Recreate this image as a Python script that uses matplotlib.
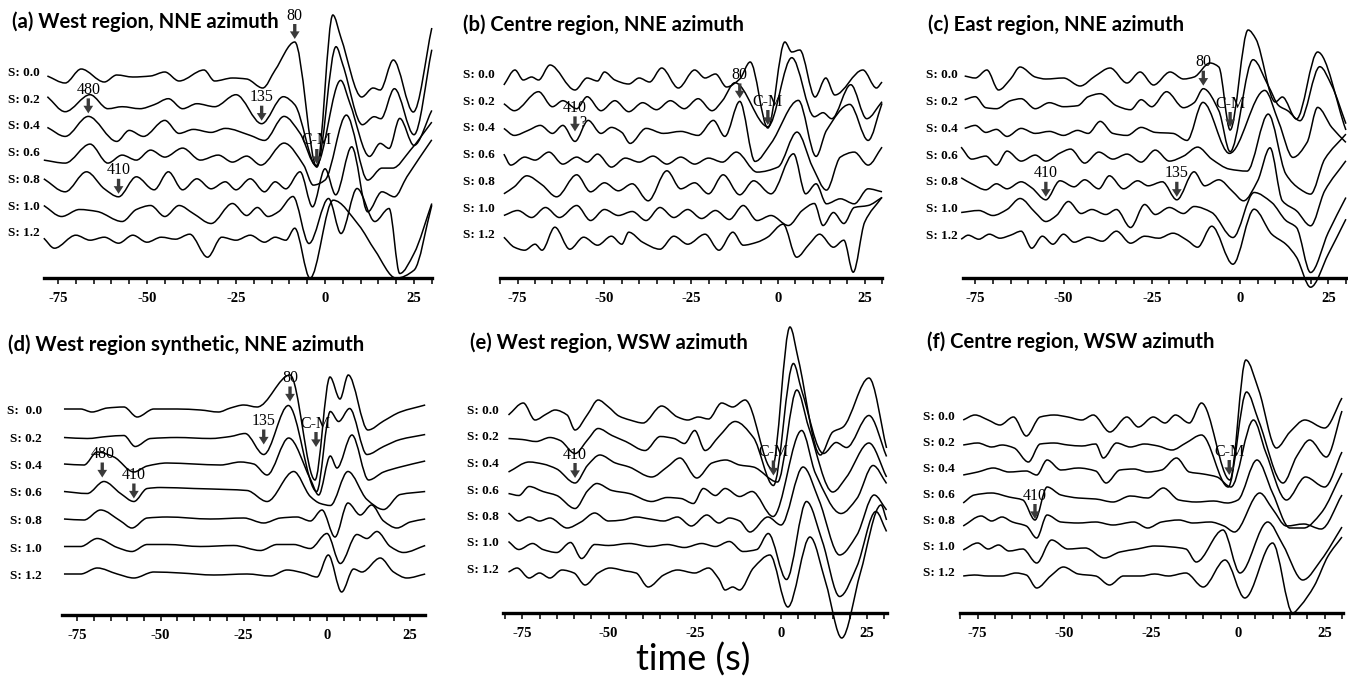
import numpy as np
import matplotlib
matplotlib.use("Agg")
import matplotlib.pyplot as plt
from matplotlib.path import Path
from matplotlib.patches import PathPatch
from matplotlib.ticker import MultipleLocator
from matplotlib.transforms import offset_copy

plt.rcParams["axes.unicode_minus"] = False

# ---------------- data (times in s, amplitudes in arbitrary units) ----------------
titles = ["(a) West region, NNE azimuth", "(b) Centre region, NNE azimuth",
          "(c) East region, NNE azimuth", "(d) West region synthetic, NNE azimuth",
          "(e) West region, WSW azimuth", "(f) Centre region, WSW azimuth"]
s_labels = ["S: 0.0", "S: 0.2", "S: 0.4", "S: 0.6", "S: 0.8", "S: 1.0", "S: 1.2"]
s_labels_d = ["S:  0.0", "S: 0.2", "S: 0.4", "S: 0.6", "S: 0.8", "S: 1.0", "S: 1.2"]
tick_values = [-75, -50, -25, 0, 25]
xlabel = "time (s)"

a_time = [
    [-78, -73, -68.5, -62, -58.5, -54, -49, -45, -41, -34, -31, -26, -22, -17.5, -14, -8.5, -2.3, 2.2, 4.5, 10.3, 13.5, 15.5, 19.2, 24.8, 30],
    [-78, -73, -66, -61, -57, -52, -48, -44, -40, -36, -31, -25, -17.8, -11.7, -8.5, -2.3, 3.1, 5, 10.5, 13.8, 15.7, 19.5, 25, 30],
    [-78, -73, -66.5, -58.5, -55, -51, -45, -41, -37, -32, -28, -21, -17, -11.5, -7, -2.5, 4.4, 7, 12.5, 15.5, 18, 21, 25, 30],
    [-79, -73, -66, -61, -57, -53, -49, -45, -40, -35, -30, -26, -22, -18, -11.5, -6, -3.3, 0, 6, 12, 16, 19, 24, 30],
    [-79, -73, -67, -62, -58, -53, -48, -44, -40, -36, -32, -28, -25, -21, -17, -14, -11, -7, -3.5, 0, 3, 7.5, 12, 16, 19.5, 23, 30],
    [-79, -74, -69, -64, -57, -53, -49, -45, -41, -37, -32, -26, -22, -19, -16, -13, -9, -4.5, 1, 4.5, 9, 14, 18, 21, 25, 30],
    [-79, -76, -70, -66, -62, -58, -54, -50, -46, -42, -38, -33, -29, -25, -21, -17, -14, -11, -8.5, -4.2, 2.3, 9.5, 14, 20, 25, 30],
]
a_amp = [
    [4, -3, 11, -2, 5, 3, 4, 8, -1, 10, -1, 2, 1, -8, 10, 38, -87, 65, 42, -17, -8, -10, 20, -32, 52],
    [10, -5, 12, -2, 0, -2, 2, 8, -2, 3, 0, 12, -17, 10, 2, -60, 60, 42, -18, -10, -12, 18, -28, 57],
    [6, -3, 17, -8, 3, -3, 13, 0, 4, 1, 5, -2, -7, 17, 0, -32, 53, 30, -23, -10, -15, 15, -12, 23],
    [0, -3, 16, -3, 5, 0, 10, 3, 12, 0, 5, -2, 4, -5, 17, -5, -25, -20, 45, -20, -8, -8, 10, 38],
    [8, -5, 15, -2, -10, 10, -3, 15, -3, 8, -2, 5, -3, 8, -5, 5, -2, 15, -20, 18, -8, 40, -25, -5, -10, 10, 47],
    [8, -3, 4, 2, -8, 4, 8, -3, 8, 0, -10, 10, -2, 6, -3, 2, 17, -30, 15, -20, 25, -8, 5, -60, -40, 10],
    [2, -8, 5, 0, 3, -3, 5, -2, 3, 1, 6, -17, 3, 0, 5, -2, 3, 0, 12, -38, 40, 15, -10, -38, -30, 35],
]
a_mark_text = ["80", "480", "135", "C-M", "410"]
a_mark_note = ["", "", "", "", ""]
a_mark_time = [-8.5, -66.5, -17.8, -2.3, -58]
a_mark_trace = [0, 2, 1, 0, 4]

b_time = [
    [-79, -75.8, -73.4, -71, -69, -65.7, -58.5, -55, -52, -50, -47, -43, -40, -37, -33.5, -28.7, -24, -21, -18, -14.8, -11, -8, -2.9, 2, 4, 6.3, 10.7, 13.8, 16.4, 24.5, 28.4, 30],
    [-79, -76, -69, -65, -62, -58, -55, -51, -47, -43, -39, -35, -31, -27, -23, -19, -16, -12.4, -2.9, 4, 10.5, 13, 15.5, 21, 25.6, 30],
    [-79, -76, -72, -68.5, -65, -62, -58.5, -54.7, -51, -48, -45, -42.6, -38, -33, -28, -23, -18.6, -15.3, -11, -6.6, -2, 5.9, 11, 14, 20.7, 26, 30],
    [-79, -77, -73, -70, -66, -62, -58, -55, -52, -48, -44, -40, -36, -32, -28, -24, -20, -16, -12, -6, 0, 5.5, 10, 14, 18, 22, 26, 30],
    [-79, -76, -72.4, -68, -63.8, -58, -54, -50, -46, -42, -37.4, -32, -28, -24, -20, -15.8, -11, -7, -2, 4.5, 8, 11, 14, 18, 22, 26, 30],
    [-79, -75, -71, -67, -63, -58, -54, -50, -46, -42, -38, -34, -30, -26, -22, -18, -14, -10, -6, -2, 3, 7, 10.5, 13, 16, 19, 22, 26, 30],
    [-79, -76, -73, -70, -68, -64.3, -60, -56, -52, -48, -45, -43, -39, -34, -30, -26, -21, -17, -13, -10, -6, -3, 1.5, 5.4, 9, 12, 16, 19, 21.7, 25, 30],
]
b_amp = [
    [-3, 12, 2, 5, 2, 17, -8, 4, 1, 10, 2, -2, 4, 0, 14, -6, 12, 4, 8, -5, 3, 20, -46, 40, 30, 32, -15, 4, -13, 12, -6, 0],
    [5, -2, 17, 2, 8, 0, 12, -2, 8, -3, 6, -1, 8, 0, 10, -2, 8, 26, -18, 51, -8, -4, -10, 24, -10, 7],
    [7, 0, 5, 10, 2, 10, -6, 15, 2, 8, 3, -8, 7, 2, 4, 0, 15, -1, 34, -26, -8, 35, -21, 5, 31, -5, 32],
    [8, -3, 5, 2, 10, -2, 5, 0, 8, -5, 4, 0, 6, -2, 5, -2, 4, 0, 10, -10, -5, 30, -5, -28, 5, 10, -3, 15],
    [-5, 2, 13, 4, -8, 14, -3, 6, -2, 5, -12, 18, 0, 6, -5, 14, -6, 8, -5, 35, -5, 5, -15, -10, -15, 0, -3],
    [0, 5, -2, 8, -2, 10, -5, 6, 0, 4, -5, 8, -2, 6, -3, 5, -4, 10, -5, 0, -10, 5, 12, -10, 3, -8, 8, 10, 18],
    [5, -5, -8, -2, -8, 15, -7, 5, -3, 6, -2, 10, 0, -7, 6, -2, 8, -8, 10, -3, 0, 5, 18, -15, -2, 8, -5, 2, -30, 20, 45],
]
b_mark_text = ["80", "C-M", "410"]
b_mark_note = ["", "", "?"]
b_mark_time = [-11, -2.9, -58.5]
b_mark_trace = [2, 0, 2]

c_time = [
    [-78, -75, -71.7, -68.4, -65, -62.3, -58, -55, -50, -45.3, -41, -36.8, -32, -28.3, -24.5, -19.8, -16, -13, -8.5, -6, -2.8, 2.3, 4.5, 10, 12, 16, 22, 30],
    [-78, -75, -72, -69, -65, -62, -58, -54, -50, -46, -43, -39.6, -35, -31, -28, -25, -20.8, -16, -13, -10.4, -6, -2.8, 3.7, 8, 11, 13.5, 17, 22.6, 26, 30],
    [-78, -75, -72, -69, -66, -62, -58, -54, -50, -46, -43, -39.6, -36, -32, -28, -24, -19, -15, -10.5, -3, 7, 11, 15, 19, 22, 26, 30],
    [-79, -76, -72, -69, -66, -62, -58, -55, -51, -48, -44, -40, -36, -32, -28, -24, -20, -16, -12, -8, -3, 2, 8, 13, 17, 20, 24, 30],
    [-79, -76, -72, -69, -66, -62, -59, -55, -51, -47, -44, -40, -37, -33, -29, -26, -22, -17.9, -13, -10, -6, -2, 1, 5, 8.5, 12, 16, 20, 24, 30],
    [-79, -74, -70, -66, -62.3, -58, -55, -52, -48.6, -45, -42, -38, -35, -31, -27, -24, -20, -16, -13, -8, -2, 4, 9, 13, 16, 20, 25, 30],
    [-79, -77, -74, -71, -68, -65, -62, -59, -56, -53, -50, -47, -43, -39, -35, -31, -27, -23, -19, -15, -12, -8, -2, 4, 9, 13, 16, 20, 25, 30],
]
c_amp = [
    [3, 1, 9, -11, 0, 12, 2, 0, 1, -7, 3, 11, -4, 7, -6, 7, 0, 2, 16, 12, -51, 49, 40, -23, -18, -40, 27, -51],
    [6, 9, -2, -3, 5, 7, -3, 3, -1, 0, 9, 12, 0, -4, 6, -1, 14, -2, 3, 17, -5, -46, 46, 20, 0, -5, -15, 39, 20, -18],
    [4, 7, 0, 3, -4, 4, -1, 1, -3, 2, -1, 11, -1, -3, 5, 0, -1, -8, 30, -21, 42, 10, -25, -10, 25, 5, -10],
    [12, 0, 3, -6, 8, -2, 4, -2, 6, 10, -4, 7, 0, 5, -3, 9, -2, 3, 12, 0, -10, -12, 45, -15, -30, -35, 0, 25],
    [8, 2, -4, 2, -3, 4, -2, -14, 5, -1, 6, -3, 10, -3, 5, 0, 4, -14, 14, 0, 6, -6, -15, 5, 38, -15, -25, -40, -5, 25],
    [0, 2, -3, 3, 14, 0, -9, -3, 11, -1, 3, -2, 3, -15, 8, -2, 5, -1, 6, 0, -25, 20, 10, -8, -15, -60, -20, 15],
    [0, 4, 0, 5, 1, 4, 8, -9, 3, -5, 5, -3, 2, -2, 8, -4, 3, 1, 6, -1, -8, 13, -25, 30, 5, -5, -18, -48, -15, 20],
]
c_mark_text = ["80", "C-M", "410", "135"]
c_mark_note = ["", "", "", ""]
c_mark_time = [-10.4, -2.8, -55, -17.9]
c_mark_trace = [1, 0, 4, 4]

d_time = [
    [-79, -74, -70.6, -66, -61, -57, -52, -45, -38, -32.6, -29, -25, -21, -11.1, -3.6, 0.9, 3.9, 6.4, 12.3, 17, 22, 29.5],
    [-79, -72, -66, -61, -57.6, -53, -45, -35, -29, -24.6, -19, -11.6, -3.1, 1, 3.5, 6.8, 12, 17, 22, 29.5],
    [-79, -73, -69, -64, -58, -54, -48, -40, -32, -26, -22, -18, -11.5, -5, -2.5, 1, 3, 7.5, 12.5, 17, 22, 29.5],
    [-79, -72, -67, -62, -58, -54, -50, -40, -30, -24, -18, -10, -5, -2, 1, 6.3, 12, 17, 22, 29.5],
    [-79, -73, -68, -62, -58.6, -54, -48, -35, -25, -19, -14, -9, -5, -1.5, 2.4, 6.3, 10, 13.4, 17, 21, 25, 29.5],
    [-79, -74, -69, -63, -58.6, -54, -48, -38, -28, -20, -15, -10, -5, 0, 4, 9, 12, 15, 19, 23, 29.5],
    [-79, -74, -69, -63, -58, -52, -44, -34, -24, -17, -12, -7, -3, 0.4, 4.4, 8, 10.5, 16, 20, 24, 29.5],
]
d_amp = [
    [0, 0, -3, 1, 2, -8, 0, 0, -1, -3, 1, 4, 2, 34, -71, 32, 10, 34, -21, -12, -3, 4],
    [-1, -2, 0, 1, -10, -2, -1, -2, 0, 3, -18, 31, -55, 25, 15, 28, -18, -10, -3, 2],
    [0, -1, 12, 7, -8, -2, 1, 0, -1, 2, 0, -11, 26, -15, -31, 8, -4, 29, -16, -8, -3, 3],
    [0, -2, 10, -2, -10, 3, 4, 3, 2, 1, -10, 20, -5, -12, -14, 20, -8, -18, -3, 0],
    [0, -1, 9, -2, -9, 1, 2, 0, 1, -4, 1, 2, -2, 9, -18, 16, 4, 14, -2, -9, -3, 0],
    [0, 0, 8, -1, -5, 2, 2, 0, 1, -4, 2, 2, -2, 13, -17, 12, 8, 15, 0, -6, 1],
    [0, 0, 6, 0, -4, 2, 1, -1, 0, -2, 4, 1, -3, 19, -18, 5, 2, 16, 2, -4, 0],
]
d_mark_text = ["80", "135", "C-M", "480", "410"]
d_mark_note = ["", "", "", "", ""]
d_mark_time = [-11.1, -19, -3.3, -67.5, -58]
d_mark_trace = [1, 1, 0, 3, 3]

e_time = [
    [-79, -74.7, -71.3, -68, -65.5, -62, -59.7, -56, -53, -50, -47, -43.8, -40, -34.6, -30, -27, -24, -21, -17.2, -14, -10.4, -2.6, 2.6, 5, 11.4, 15, 18, 25.5, 30.6],
    [-79, -75, -71, -67, -64, -59.7, -56, -53, -49, -45, -39.4, -35, -31, -28, -25, -22, -18, -13.3, -8, -2.2, 3.6, 6, 12.3, 16, 19, 25.5, 30.6],
    [-79, -73, -69, -65, -59.7, -56, -52.5, -48, -44, -37.5, -33, -29.3, -24.4, -20, -16, -12, -8, -1, 4.6, 8, 15, 19, 25.5, 30.6],
    [-79, -76, -73, -69, -65, -59.7, -56, -53.4, -49, -44, -37.5, -33, -29, -25.4, -22.5, -19, -16.2, -12, -8.4, -2.3, 6, 10, 17.4, 22, 26.7, 30.6],
    [-79, -76, -73, -70, -67, -62, -58, -54, -50, -46, -42, -38, -34, -30, -26, -21.5, -18, -15, -12, -9, -3.8, 0, 6.4, 11, 17, 22, 27, 30.6],
    [-79, -76, -72, -69, -65, -61, -57.8, -54, -50, -44, -38, -33, -28, -23, -19, -15, -11, -7, -3.7, 1.6, 7.4, 12, 17, 22, 27.5, 30.6],
    [-79, -76.5, -73, -70, -67, -63.5, -60, -56.8, -53, -49.6, -45, -42, -38.5, -34, -30, -25, -21, -18, -16.2, -14, -12, -8, -3.2, 2, 8.4, 13, 17.6, 23, 29, 30.6],
]
e_amp = [
    [-1, 11, -6, 0, 4, -1, -16, 0, 14, 7, -2, -6, -9, 8, -3, -6, -3, -5, 11, 7, 14, -55, 87, 55, -41, -18, -13, 36, -34],
    [2, 1, -1, 3, 0, -13, 1, 12, 5, -1, -10, 4, 2, -3, 10, -10, 4, 19, 3, -45, 77, 50, -13, -2, -7, 25, -16],
    [-5, 5, 3, -2, -16, 2, 12, 4, 0, -10, 0, 9, -11, 4, 7, 2, 0, -15, 77, 40, -25, -10, 24, -10],
    [0, -2, 7, 2, -2, -15, 3, 10, 3, 0, -8, -4, -5, -10, 5, -2, 5, -3, 2, -23, 63, 20, -20, -5, 28, 10],
    [7, -1, 3, -1, 2, -8, -2, 7, -1, 0, 3, 1, -1, 3, -6, 5, -3, 2, -1, -12, 3, -5, 53, 20, -35, -15, 25, 10],
    [5, -3, 3, -3, -6, 4, -12, 2, 1, 3, 0, 2, -1, 3, 0, 5, -5, -3, 13, -33, 45, 5, -50, -20, 35, 15],
    [1, 5, -5, 0, -5, 3, 0, -12, 0, 5, 2, 0, -14, -2, 3, 0, 5, -6, -17, -14, -17, 5, 18, -34, 36, -10, -65, 0, 68, 53],
]
e_mark_text = ["410", "C-M"]
e_mark_note = ["", ""]
e_mark_time = [-59.7, -2.2]
e_mark_trace = [2, 1]

f_time = [
    [-79.2, -75.8, -72, -68.6, -64.7, -61, -57, -53, -49, -45, -41.7, -36.9, -32, -28.7, -24.4, -21, -18, -14, -10.5, -2.3, 2.3, 6, 11.1, 15, 19.3, 25, 30],
    [-79.2, -75, -71, -68, -64.5, -60.4, -57, -53, -49, -45, -41, -38.8, -35, -31, -27, -23, -19, -15, -10.5, -2.8, 2.5, 6, 13, 17, 20.7, 25.5, 30],
    [-79.2, -75, -70.5, -66, -61, -58, -55, -51, -46, -41, -38, -34, -30, -26, -22, -17.7, -14, -10, -6, -2, 4.5, 8, 14, 19.5, 25, 30],
    [-79.2, -76, -71, -66, -62, -58.5, -55, -51, -46, -41, -36, -31, -26, -21.5, -17, -12, -7, -3, 0, 5.5, 10, 15, 19, 24, 30],
    [-79.2, -74, -71, -68, -65, -61, -58, -55, -51, -46, -41, -36, -30, -26, -22, -17, -13, -8, -4, -1, 6.3, 10, 14, 19, 24, 30],
    [-79.2, -75, -72, -69, -66, -62, -58, -53.7, -49, -44, -38.5, -34, -29, -24, -19, -15, -12, -4.3, 0.6, 8.6, 13, 18.7, 24, 30],
    [-79.2, -76, -72, -68, -64, -61, -58, -54, -50.3, -46, -41, -37, -33, -28, -24, -20, -15, -10, -3.7, 2, 10, 15.8, 18, 22, 26, 30],
]
f_amp = [
    [0, 5, 0, -5, 3, -16, 3, 5, 3, 0, 5, -12, 3, -7, 3, -3, 5, -3, 17, -60, 60, 30, -28, -12, 0, -8, 22],
    [1, 3, -1, 1, -2, -16, 2, 3, 1, 0, 2, -12, 3, -1, 2, 0, -4, 3, 11, -41, 54, 25, -37, -10, 6, -11, 35],
    [-3, 0, 4, 0, 1, -3, 12, 2, 4, 1, -11, 2, 3, 0, 2, 14, 0, -2, -5, -15, 52, 20, -28, -5, -15, 20],
    [-5, 3, 5, 1, -2, -22, 11, 3, 0, -1, -4, 2, 0, 10, -2, -4, -3, -5, -2, 38, 5, -30, -30, -15, 25],
    [-2, 8, 3, 7, 2, -2, -14, 9, 2, 1, 2, -1, 2, -4, 2, 4, 1, 2, -2, -8, 31, 15, -2, 0, -5, 29],
    [0, 7, 1, 5, -1, 1, -13, 10, 1, 2, -8, -2, 1, 4, 3, 1, -12, 20, -23, 28, 5, -30, -10, 23],
    [0, 1, 0, 0, 3, 1, -12, 0, 9, 2, 0, -9, 0, 0, 2, 0, 3, -11, 16, -22, 33, -37, -30, -10, 20, 39],
]
f_mark_text = ["C-M", "410"]
f_mark_note = ["", ""]
f_mark_time = [-2.5, -58.5]
f_mark_trace = [0, 3]

# ---------------- layout (pixels of the 1348 x 683 canvas) ----------------
W, H = 1348, 683
layout = [
    dict(xlim=(-79, 30), left=43.8, right=431.8, top=0, axis=278, base0=80, step=26.7,
         lab_right=40, lab_dy=-7, title_xy=(12, 22), gaps=[3, 3, 3, 3, 3]),
    dict(xlim=(-80, 30), left=500.4, right=882, top=0, axis=278, base0=82, step=26.7,
         lab_right=495, lab_dy=-7, title_xy=(463, 25), gaps=[3, 3, 10]),
    dict(xlim=(-78.5, 30), left=962.9, right=1345.9, top=0, axis=278, base0=79, step=26.7,
         lab_right=958, lab_dy=-3.5, title_xy=(928, 25), gaps=[3, 3, 3, 3]),
    dict(xlim=(-79.5, 29.5), left=62.3, right=425.2, top=318, axis=615, base0=409, step=27.5,
         lab_right=42, lab_dy=2, title_xy=(8, 345), gaps=[4, 10, 33, 4, 3]),
    dict(xlim=(-80.5, 30.7), left=503.3, right=886.9, top=318, axis=613, base0=414, step=26.5,
         lab_right=499, lab_dy=-3, title_xy=(470, 343), gaps=[5, 10]),
    dict(xlim=(-80, 30.3), left=960.4, right=1343, top=318, axis=613, base0=420, step=26,
         lab_right=955, lab_dy=-2.5, title_xy=(927, 342), gaps=[5, 1]),
]
panel_data = [
    (a_time, a_amp, a_mark_text, a_mark_note, a_mark_time, a_mark_trace, s_labels),
    (b_time, b_amp, b_mark_text, b_mark_note, b_mark_time, b_mark_trace, s_labels),
    (c_time, c_amp, c_mark_text, c_mark_note, c_mark_time, c_mark_trace, s_labels),
    (d_time, d_amp, d_mark_text, d_mark_note, d_mark_time, d_mark_trace, s_labels_d),
    (e_time, e_amp, e_mark_text, e_mark_note, e_mark_time, e_mark_trace, s_labels),
    (f_time, f_amp, f_mark_text, f_mark_note, f_mark_time, f_mark_trace, s_labels),
]

SERIF = ["Liberation Serif", "DejaVu Serif"]
SANS = ["Lato", "Open Sans", "DejaVu Sans"]
ARROW_LEN = 15


def smooth_path(x, y):
    """Smooth (shape preserving) Bezier path through the read points."""
    x = np.asarray(x, float)
    y = np.asarray(y, float)
    d = np.diff(y) / np.diff(x)
    m = np.zeros_like(y)
    m[0], m[-1] = d[0], d[-1]
    for k in range(1, len(y) - 1):
        if d[k - 1] * d[k] > 0:
            m[k] = 2.0 / (1.0 / d[k - 1] + 1.0 / d[k])
    verts = [(x[0], y[0])]
    codes = [Path.MOVETO]
    for k in range(len(x) - 1):
        h = x[k + 1] - x[k]
        verts += [(x[k] + h / 3, y[k] + m[k] * h / 3),
                  (x[k + 1] - h / 3, y[k + 1] - m[k + 1] * h / 3),
                  (x[k + 1], y[k + 1])]
        codes += [Path.CURVE4] * 3
    return Path(verts, codes)


fig = plt.figure(figsize=(W / 100, H / 100), dpi=100)
fig.patch.set_facecolor("white")

for lay, (times, amps, mtext, mnote, mtime, mtrace, labels), title in zip(layout, panel_data, titles):
    L, R, T, A, B0 = lay["left"], lay["right"], lay["top"], lay["axis"], lay["base0"]
    ax = fig.add_axes([L / W, 1 - A / H, (R - L) / W, (A - T) / H])
    ax.set_xlim(*lay["xlim"])
    ax.set_ylim(-(A - B0), B0 - T)
    ax.patch.set_alpha(0)
    for s in ("left", "top", "right"):
        ax.spines[s].set_visible(False)
    ax.spines["bottom"].set_linewidth(2.4)
    ax.set_yticks([])
    ax.set_xticks(tick_values)
    ax.xaxis.set_minor_locator(MultipleLocator(5))
    ax.tick_params(axis="x", which="both", direction="out", length=4, width=1.1, pad=6)
    for lbl in ax.get_xticklabels():
        lbl.set_fontfamily(SERIF)
        lbl.set_fontweight("bold")
        lbl.set_fontsize(10.5)

    step = lay["step"]
    for i, (t, a) in enumerate(zip(times, amps)):
        yy = -i * step + np.asarray(a, float)
        ax.add_patch(PathPatch(smooth_path(t, yy), fill=False, lw=1.1,
                               ec="black", clip_on=False, zorder=2))
        fig.text(lay["lab_right"] / W, 1 - (B0 + i * step + lay["lab_dy"]) / H, labels[i],
                 ha="right", va="center", fontsize=9.5, fontweight="bold", family=SERIF)

    for txt, note, tm, tr, gap in zip(mtext, mnote, mtime, mtrace, lay["gaps"]):
        tt = np.asarray(times[tr], float)
        k = int(np.argmin(np.abs(tt - tm)))
        tip = -tr * step + amps[tr][k] + gap
        ax.annotate("", xy=(tm, tip), xytext=(tm, tip + ARROW_LEN),
                    arrowprops=dict(width=2.4, headwidth=7, headlength=5.5,
                                    facecolor="#3a3a3a", edgecolor="none", shrink=0),
                    annotation_clip=False, zorder=4)
        ax.text(tm, tip + ARROW_LEN + 0.5, txt, ha="center", va="bottom",
                fontsize=11.5, family=SERIF, zorder=5, clip_on=False)
        if note:
            tr_off = offset_copy(ax.transData, fig=fig, x=4, y=0, units="dots")
            ax.text(tm, tip + ARROW_LEN * 0.55, note, ha="left", va="center",
                    fontsize=11.5, family=SERIF, zorder=5, clip_on=False, transform=tr_off)

    fig.text(lay["title_xy"][0] / W, 1 - lay["title_xy"][1] / H, title,
             ha="left", va="center", fontsize=14.6, fontweight="bold", family=SANS)

fig.text(693 / W, 1 - 660 / H, xlabel, ha="center", va="center", fontsize=26, family=SANS)

fig.savefig("out.png", dpi=100, facecolor="white")
